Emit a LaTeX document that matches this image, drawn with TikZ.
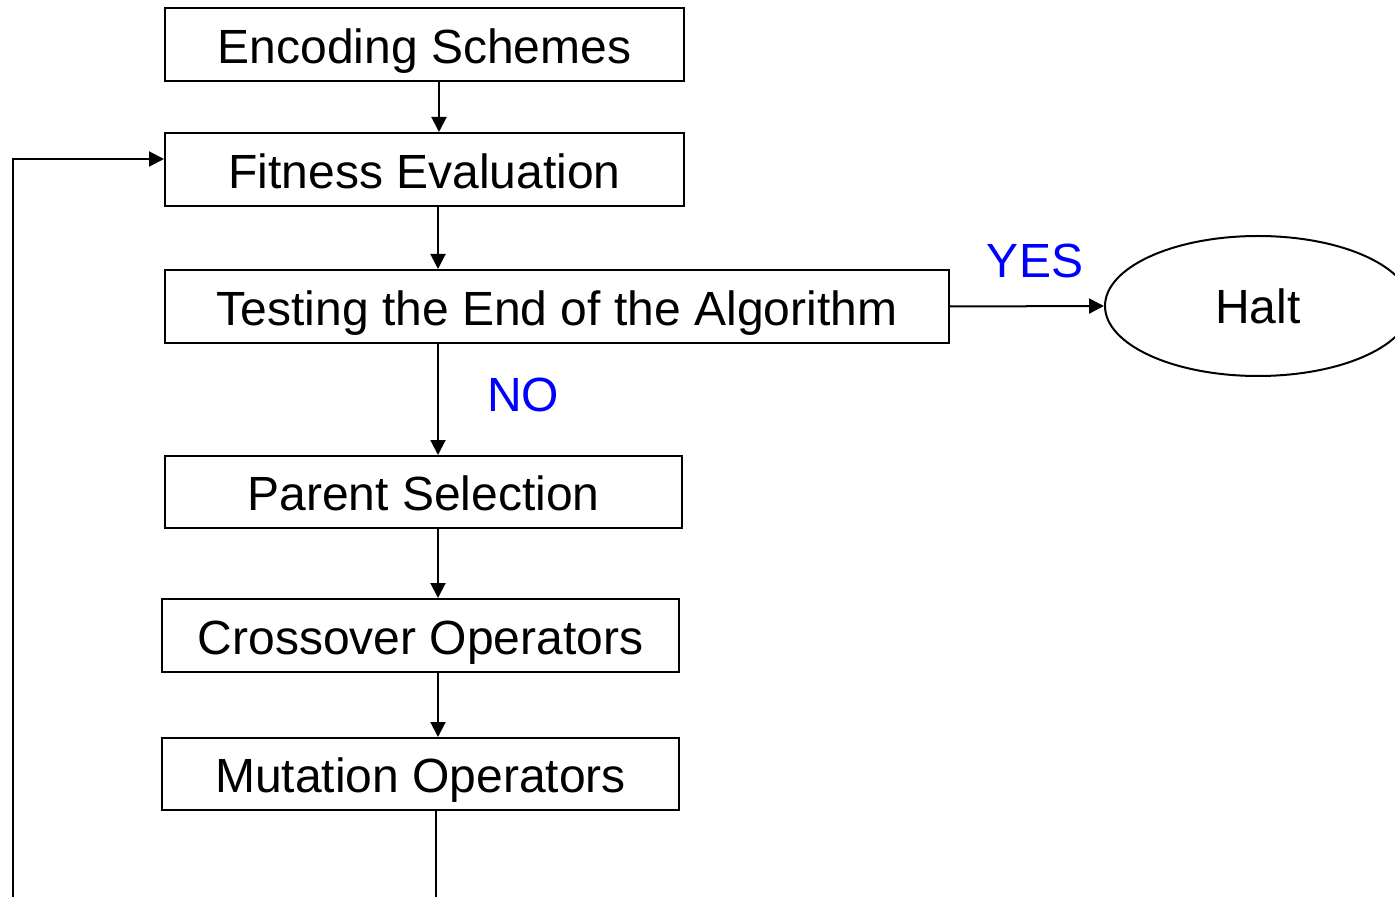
\documentclass[tikz,border=0pt]{standalone}
\usepackage{fontspec}
\setmainfont{Liberation Sans}
\usetikzlibrary{arrows.meta,shapes.geometric}
\tikzset{
  box/.style={draw,line width=1pt,rectangle,inner sep=0pt,minimum height=36.5pt,text height=22pt,text depth=3.3pt,font=\fontsize{24}{28}\selectfont},
  halt/.style={draw,line width=1pt,ellipse,inner sep=0pt,minimum width=153pt,minimum height=70pt,font=\fontsize{24}{28}\selectfont},
  arr/.style={line width=1pt,-{Triangle[length=7.5pt,width=7.5pt]}},
  lab/.style={text=blue,inner sep=0pt,font=\fontsize{24}{28}\selectfont}
}
\begin{document}
\begin{tikzpicture}[x=0.5pt,y=-0.5pt]
\useasboundingbox (0,0) rectangle (1395,897);
\clip (0,0) rectangle (1395,897);
\node[box,minimum width=259.5pt] (enc) at (424.5,44.5) {Encoding Schemes};
\node[box,minimum width=259.5pt] (fit) at (424.5,169.5) {Fitness Evaluation};
\node[box,minimum width=392pt] (test) at (557,306.5) {Testing the End of the Algorithm};
\node[box,minimum width=258.5pt,minimum height=36pt] (par) at (423.5,492) {Parent Selection};
\node[box,minimum width=258.5pt] (cro) at (420.5,635.5) {Crossover Operators};
\node[box,minimum width=258.5pt,minimum height=36pt] (mut) at (420.5,774) {Mutation Operators};
\node[halt] (h) at (1258,306) {Halt};
\node[lab] (yes) at (1035,261) {YES};
\node[lab] (no) at (523,395) {NO};
\coordinate (a1) at (439,0);
\coordinate (a2) at (438,0);
\coordinate (a3) at (436,0);
\coordinate (b1) at (436,940);
\coordinate (b2) at (13,940);
\coordinate (b3) at (13,159);
\coordinate (b4) at (0,159);
\draw[arr] (a1 |- enc.south) -- (a1 |- fit.north);
\draw[arr] (a2 |- fit.south) -- (a2 |- test.north);
\draw[arr] (a2 |- test.south) -- (a2 |- par.north);
\draw[arr] (a2 |- par.south) -- (a2 |- cro.north);
\draw[arr] (a2 |- cro.south) -- (a2 |- mut.north);
\draw[arr] (test.east) -- (h.west);
\draw[arr] (a3 |- mut.south) -- (b1) -- (b2) -- (b3) -- (fit.west |- b4);
\end{tikzpicture}
\end{document}
